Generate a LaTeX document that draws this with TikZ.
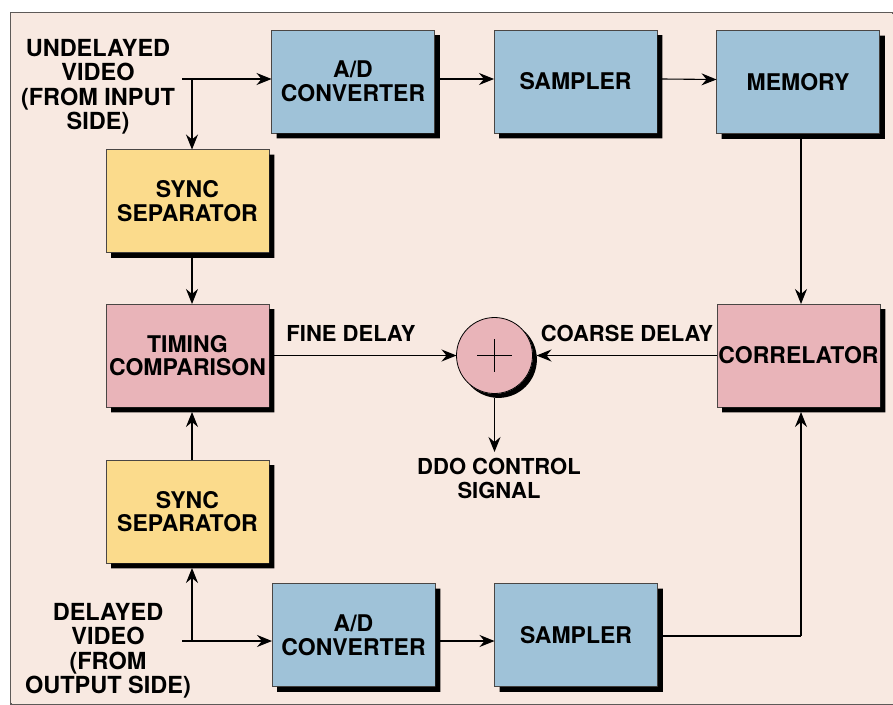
\documentclass[tikz,border=0pt]{standalone}
\usepackage{fontspec}
\setmainfont{TeX Gyre Heros}
\usetikzlibrary{arrows.meta}
\definecolor{bg}{HTML}{F8E9E1}
\definecolor{panelline}{HTML}{5E5A58}
\definecolor{boxline}{HTML}{4A4644}
\definecolor{adblue}{HTML}{9FC2D8}
\definecolor{syncyellow}{HTML}{FBDB8C}
\definecolor{timepink}{HTML}{E9B4B9}
\newcommand{\boxshadow}[1]{%
  \fill[black] ([shift={(0.4,5)}]#1.north east) -- ([shift={(5.4,5)}]#1.north east)
    -- ([shift={(5.4,5.4)}]#1.south east) -- ([shift={(5,5.4)}]#1.south west)
    -- ([shift={(5,0.4)}]#1.south west) -- ([shift={(0.4,0.4)}]#1.south east) -- cycle;}
\begin{document}
\begin{tikzpicture}[x=1pt,y=-1pt,
  box/.style={draw=boxline, line width=0.8pt, minimum width=163pt, minimum height=103pt,
    align=center, inner sep=0pt, outer sep=0pt, font=\bfseries\fontsize{23}{23.5}\selectfont},
  bluebox/.style={box, fill=adblue},
  yellowbox/.style={box, fill=syncyellow},
  pinkbox/.style={box, fill=timepink},
  lbl/.style={align=center, inner sep=0pt, font=\bfseries\fontsize{23.5}{24.5}\selectfont},
  inlbl/.style={align=center, inner sep=0pt, font=\bfseries\fontsize{22}{24}\selectfont},
  conn/.style={line width=1.1pt, draw=black},
  arr/.style={conn, -{Stealth[length=15pt,width=12pt,inset=5pt]}}
]
\useasboundingbox (0,0) rectangle (893,704);
\fill[white] (0,0) rectangle (893,704);
\filldraw[fill=bg, draw=panelline, line width=1.6pt] (10.5,12.5) -- (893,12.5) -- (893,704) -- (10.5,704) -- cycle;
\fill[bg] (12,14) rectangle (893,704);

% boxes
\node[bluebox] (ad1) at (353,81.5) {A/D\\CONVERTER};
\node[bluebox] (samp1) at (575.5,81.5) {SAMPLER};
\node[bluebox] (mem) at (798,82) {MEMORY};
\node[yellowbox] (sync1) at (187.5,201) {SYNC\\SEPARATOR};
\node[pinkbox] (timing) at (187.5,355.5) {TIMING\\COMPARISON};
\node[pinkbox] (corr) at (798.5,355.5) {CORRELATOR};
\node[yellowbox] (sync2) at (187.5,511.5) {SYNC\\SEPARATOR};
\node[bluebox] (ad2) at (353.5,635) {A/D\\CONVERTER};
\node[bluebox] (samp2) at (576,635) {SAMPLER};
\foreach \n in {ad1,samp1,mem,sync1,timing,corr,sync2,ad2,samp2}{\boxshadow{\n}}

% summing junction
\node[circle, draw=black, line width=0.8pt, fill=timepink, minimum size=76pt, inner sep=0pt, outer sep=0pt] (sum) at (494.5,355.5) {};
\begin{scope}[even odd rule]
  \clip (0,0) rectangle (893,704) (sum.center) circle[radius=38.4pt];
  \fill[black] ([shift={(4,4)}]sum.center) circle[radius=38.4pt];
\end{scope}
\draw[line width=0.7pt] ([xshift=-17.5pt]sum.center) -- ([xshift=17.5pt]sum.center);
\draw[line width=0.7pt] ([yshift=16.5pt]sum.center) -- ([yshift=-16.5pt]sum.center);

% labels
\node[lbl] (undel) at (98,87) {UNDELAYED\\VIDEO\\(FROM INPUT\\SIDE)};
\node[lbl] (del) at (108,651) {DELAYED\\VIDEO\\(FROM\\OUTPUT SIDE)};
\node[inlbl] (fine) at (351,333) {FINE DELAY};
\node[inlbl] (coarse) at (627,333) {COARSE DELAY};
\node[inlbl] (ddo) at (499,478) {DDO CONTROL\\SIGNAL};

% input connectors
\coordinate (in1) at (182,79);
\coordinate (br1) at (192,79);
\draw[arr] (in1) -- (in1 -| ad1.west);
\draw[arr] (br1) -- (br1 |- sync1.north);
\coordinate (in2) at (182,641);
\coordinate (br2) at (192,641);
\draw[arr] (in2) -- (in2 -| ad2.west);
\draw[arr] (br2) -- ([yshift=-5pt]br2 |- sync2.south);

% sync to timing
\draw[arr] ([xshift=4.5pt,yshift=-5pt]sync1.south) -- ([xshift=4.5pt]timing.north);
\draw[arr] ([xshift=4.5pt]sync2.north) -- ([xshift=4.5pt,yshift=-5pt]timing.south);

% top chain
\draw[arr] ([yshift=2.5pt,xshift=5pt]ad1.east) -- ([yshift=2.5pt]samp1.west);
\draw[arr] ([yshift=2.5pt,xshift=5pt]samp1.east) -- ([yshift=2.5pt]mem.west);
% bottom chain
\draw[arr] ([yshift=-6pt,xshift=5pt]ad2.east) -- ([yshift=-6pt]samp2.west);
\coordinate (cr) at (801,636);
\draw[conn] ([yshift=-1pt,xshift=5pt]samp2.east) -- (cr);
\draw[arr] (cr) -- ([xshift=2.5pt,yshift=-5pt]corr.south);
\draw[arr] ([xshift=3pt,yshift=-5pt]mem.south) -- ([xshift=2.5pt]corr.north);

% to summing junction
\draw[arr] ([xshift=5pt]timing.east) -- (sum.west);
\draw[arr] (corr.west) -- ([xshift=4pt]sum.east);
\coordinate (ddoend) at (494.5,452);
\draw[arr] ([yshift=-4pt]sum.south) -- (ddoend);
\end{tikzpicture}
\end{document}
